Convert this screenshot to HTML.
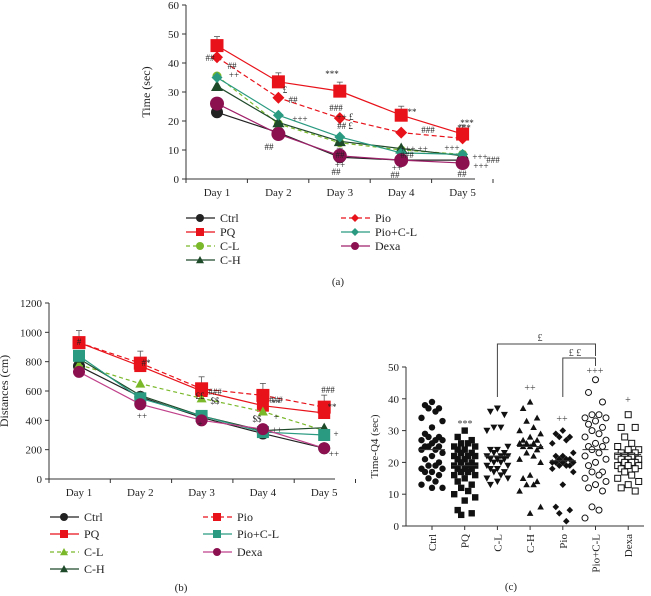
<!DOCTYPE html>
<html><head><meta charset="utf-8"><style>
body{margin:0;background:#fff}
svg{display:block;font-family:"Liberation Serif",serif}
</style></head><body>
<svg id="fig" width="651" height="596" viewBox="0 0 651 596" xmlns="http://www.w3.org/2000/svg"></svg>
<script>
const days = ["Day 1","Day 2","Day 3","Day 4","Day 5"];
const groups = ["Ctrl","PQ","C-L","C-H","Pio","Pio+C-L","Dexa"];
// panel a: time (sec)
const aCtrl = [23,16,7.5,6.5,6.5];
const aPQ = [46,33.5,30.3,22,15.5];
const aCL = [35.5,19,12.5,10,8.5];
const aCH = [32,19.5,13,10.5,8];
const aPio = [42,28,21,16,14];
const aPioCL = [35,22,14.5,9,8.5];
const aDexa = [26,15.5,8,6.5,5.5];
const aTicks = [0,10,20,30,40,50,60];
// panel b: distances (cm)
const bCtrl = [770,560,420,310,210];
const bPQ = [930,770,600,500,450];
const bCL = [780,650,550,460,330];
const bCH = [820,570,430,330,350];
const bPio = [930,790,615,570,490];
const bPioCL = [840,550,430,320,300];
const bDexa = [730,510,400,340,210];
const bTicks = [0,200,400,600,800,1000,1200];
// panel c: Time-Q4 scatter
const cCtrl = [39,38,37,37,36,34,33,31,29,28,28,27,27,27,26,25,25,25,24,24,23,22,21,20,19,19,18,18,17,17,16,15,14,13,12,12];
const cPQ = [30,28,27,26,26,25,25,24,24,23,23,22,22,22,21,21,20,20,19,19,19,18,18,18,17,17,16,16,15,14,13,12,11,10,9,8,5,4,3.5];
const cCL = [37,36,35,31,31,30,25,24,24,23,23,22,22,22,21,21,21,20,20,19,19,18,18,17,17,16,15,15,14,13];
const cCH = [39,37,34,33,31,30,29,28,27,27,26,26,26,25,25,25,24,23,22,21,20,16,15,14,13,13,11,6,4];
const cPio = [30,29,28,28,27,26,23,22,22,21,21,21,20,20,20,20,19,19,19,18,17,13,6,5,4,1.5];
const cPioCL = [46,42,39,35,35,34,34,33,32,31,30,29,28,27,26,25,25,24,23,22,21,20,19,17,17,16,15,14,13,12,11,6,5,2.5];
const cDexa = [35,31,31,28,26,25,24,24,23,23,22,22,22,21,21,21,20,20,20,19,19,19,18,18,17,16,15,14,13,12,11];
const cMeans = [24,19,22,25,20.5,24,22.5];
const cTicks = [0,10,20,30,40,50];

const svg = document.getElementById('fig');
const NS = "http://www.w3.org/2000/svg";
function mk(tag, attrs, parent){
  const e = document.createElementNS(NS, tag);
  for (const k in attrs) e.setAttribute(k, attrs[k]);
  (parent||svg).appendChild(e);
  return e;
}
function txt(x,y,s,size,anchor,parent,fill){
  const t = mk('text',{x:x,y:y,'font-size':size||11,'text-anchor':anchor||'middle',fill:fill||'#222'},parent);
  t.textContent = s;
  return t;
}
function marker(g,shape,x,y,r,color){
  let m;
  if(shape==='circle') m = mk('circle',{cx:x,cy:y,r:r,fill:color},g);
  else if(shape==='square') m = mk('rect',{x:x-r,y:y-r,width:2*r,height:2*r,fill:color},g);
  else if(shape==='tri') m = mk('polygon',{points:`${x},${y-r} ${x+r},${y+r*0.8} ${x-r},${y+r*0.8}`,fill:color},g);
  else if(shape==='diamond') m = mk('polygon',{points:`${x},${y-r} ${x+r},${y} ${x},${y+r} ${x-r},${y}`,fill:color},g);
  else if(shape==='ocircle') m = mk('circle',{cx:x,cy:y,r:r,fill:'#fff',stroke:color,'stroke-width':1},g);
  else if(shape==='osquare') m = mk('rect',{x:x-r,y:y-r,width:2*r,height:2*r,fill:'#fff',stroke:color,'stroke-width':1},g);
  return m;
}

function linePanel(cfg){
  const g = mk('g',{});
  
  
  const y = v => cfg.y0 - (v/cfg.ymax)*(cfg.y0-cfg.y1);
  const x = i => cfg.x0 + i*cfg.dx;
  const ax = mk('line',{x1:cfg.ax,y1:cfg.y1,x2:cfg.ax,y2:cfg.y0,stroke:'#333','stroke-width':1},g);
  
  
  const xa = mk('line',{x1:cfg.ax,y1:cfg.y0,x2:cfg.axEnd,y2:cfg.y0,stroke:'#333','stroke-width':1},g);
  
  
  cfg.ticks.forEach(t=>{
    mk('line',{x1:cfg.ax-4,y1:y(t),x2:cfg.ax,y2:y(t),stroke:'#333'},g);
    const l = txt(cfg.ax-7,y(t)+4,String(t),11,'end',g);
    
    
  });
  for(let i=0;i<=days.length;i++){
    const tx = cfg.ax + i*cfg.dx;
    mk('line',{x1:tx,y1:cfg.y0,x2:tx,y2:cfg.y0+4,stroke:'#333'},g);
  }
  days.forEach((d,i)=>{
    const l = txt(x(i),cfg.y0+17,d,11,'middle',g);
    
    
  });
  const yt = txt(0,0,cfg.ytitle,12,'middle',g);
  yt.setAttribute('transform',`translate(${cfg.ytx},${(cfg.y0+cfg.y1)/2}) rotate(-90)`);
  
  
  cfg.series.forEach(s=>{
    const sg = mk('g',{},g);
    
    
    const pts = s.data.map((v,i)=>`${x(i)},${y(v)}`).join(' ');
    mk('polyline',{points:pts,fill:'none',stroke:s.color,'stroke-width':1.2,'stroke-dasharray':s.dash||'none'},sg);
    s.data.forEach((v,i)=>{
      if(s.err){ mk('line',{x1:x(i),y1:y(v),x2:x(i),y2:y(v)-s.err,stroke:'#555','stroke-width':0.8},sg);
        mk('line',{x1:x(i)-3,y1:y(v)-s.err,x2:x(i)+3,y2:y(v)-s.err,stroke:'#555','stroke-width':0.8},sg);}
      const m = marker(sg,s.shape,x(i),y(v),s.r,s.fill||s.color);
      
      
    });
  });
  cfg.series.forEach((s,k)=>{
    const col = cfg.legendCols[k];
    const lg = mk('g',{},g);
    
    
    const lx = col.x, ly = col.y;
    mk('line',{x1:lx,y1:ly,x2:lx+29,y2:ly,stroke:s.color,'stroke-width':1.2,'stroke-dasharray':s.dash||'none'},lg);
    marker(lg,s.shape,lx+14,ly,4,s.fill||s.color);
    txt(lx+34,ly+4,s.label,12,'start',lg);
  });
  const pl = txt(cfg.lab[0],cfg.lab[1],cfg.labText,11,'middle',g);
  
  
  return {g,x,y};
}

linePanel({name:'chart-a',ax:186,axEnd:475,x0:217,dx:61.4,y0:179,y1:5,ymax:60,ticks:aTicks,ytitle:'Time (sec)',ytx:150,
  series:[
    {key:'ctrl',label:'Ctrl',data:aCtrl,color:'#222',shape:'circle',r:6,err:9},
    {key:'pq',label:'PQ',data:aPQ,color:'#e8121a',shape:'square',r:6.5,err:9},
    {key:'cl',label:'C-L',data:aCL,color:'#7ab82a',shape:'circle',r:4.5,dash:'4,3'},
    {key:'ch',label:'C-H',data:aCH,color:'#1f4a2a',shape:'tri',r:6},
    {key:'pio',label:'Pio',data:aPio,color:'#e8121a',shape:'diamond',r:6,dash:'5,3'},
    {key:'piocl',label:'Pio+C-L',data:aPioCL,color:'#2a9a80',shape:'diamond',r:5.5},
    {key:'dexa',label:'Dexa',data:aDexa,color:'#a0206a',fill:'#8b1050',shape:'circle',r:7}
  ],
  legendCols:[{x:186,y:218},{x:186,y:232},{x:186,y:246},{x:186,y:260},{x:341,y:218},{x:341,y:232},{x:341,y:246}],
  lab:[338,285],labText:'(a)'});
[['***',332,77],['***',464,131],['**',412,115],['***',467,126],['##',210,61],['##',232,69],['++',234,78],['£',285,93],['##',293,103],['+++',300,122],['###',336,111],['++ £',345,120],['## £',345,129],['##',269,150],['##',340,158],['++',340,168],['##',336,175],['###',428,133],['+++ ++',414,152],['###',407,158],['++',397,171],['##',395,178],['+++',452,151],['+++',480,160],['###',493,163],['+++',481,169],['##',462,177]].forEach(a=>{
  const t=txt(a[1],a[2],a[0],9,'middle');
  
  
});

linePanel({name:'chart-b',ax:49,axEnd:335,x0:79,dx:61.3,y0:479,y1:303,ymax:1200,ticks:bTicks,ytitle:'Distances (cm)',ytx:8,
  series:[
    {key:'ctrl',label:'Ctrl',data:bCtrl,color:'#222',shape:'circle',r:6},
    {key:'pq',label:'PQ',data:bPQ,color:'#e8121a',shape:'square',r:6,err:0},
    {key:'cl',label:'C-L',data:bCL,color:'#7ab82a',shape:'tri',r:5,dash:'4,3'},
    {key:'ch',label:'C-H',data:bCH,color:'#1f4a2a',shape:'tri',r:5},
    {key:'pio',label:'Pio',data:bPio,color:'#e8121a',shape:'square',r:6.5,dash:'5,3',err:12},
    {key:'piocl',label:'Pio+C-L',data:bPioCL,color:'#2a9a80',shape:'square',r:6},
    {key:'dexa',label:'Dexa',data:bDexa,color:'#c0408a',fill:'#8b1050',shape:'circle',r:6}
  ],
  legendCols:[{x:50,y:517},{x:50,y:534},{x:50,y:552},{x:50,y:569},{x:203,y:517},{x:203,y:534},{x:203,y:552}],
  lab:[181,591],labText:'(b)'});
[['#',79,345],['#*',146,366],['###',215,395],['££',200,399],['$$',215,404],['###',276,403],['**',276,406],['$$',257,422],['+',276,420],['++',142,419],['+',200,427],['++',277,433],['###',328,393],['**',332,410],['+',336,437],['++',334,457]].forEach(a=>{
  const t=txt(a[1],a[2],a[0],9,'middle');
  
  
});

(function(){
  const g = mk('g',{});
  
  
  const y0=526,y1=367,ymax=50,ax=406,x0=432,dx=32.7;
  const y = v => y0-(v/ymax)*(y0-y1);
  const x = i => x0+i*dx;
  const ya=mk('line',{x1:ax,y1:y1,x2:ax,y2:y0,stroke:'#333'},g);
  
  
  const xa=mk('line',{x1:ax,y1:y0,x2:644,y2:y0,stroke:'#333'},g);
  
  
  cTicks.forEach(t=>{
    mk('line',{x1:ax-4,y1:y(t),x2:ax,y2:y(t),stroke:'#333'},g);
    const l=txt(ax-7,y(t)+4,String(t),11,'end',g);
    
    
  });
  const yt=txt(0,0,'Time-Q4 (sec)',11,'middle',g);
  yt.setAttribute('transform',`translate(378,${(y0+y1)/2}) rotate(-90)`);
  
  
  const sets=[cCtrl,cPQ,cCL,cCH,cPio,cPioCL,cDexa];
  const shapes=['circle','square','tri','tri','diamond','ocircle','osquare'];
  const sizes=[3.2,3.2,3.5,3.3,3.3,3,3];
  const jit=[0,-7,7,-3.5,3.5,-10.5,10.5];
  sets.forEach((vals,i)=>{
    const sg=mk('g',{},g);
    
    
    mk('line',{x1:x(i),y1:y0,x2:x(i),y2:y0+4,stroke:'#333'},sg);
    vals.forEach((v,k)=>{
      const off=jit[k%jit.length];
      const m=marker(sg,shapes[i],x(i)+off,y(v),sizes[i],'#111');
      if(i===2) m.setAttribute('transform',`rotate(180 ${x(i)+off} ${y(v)})`);
      
      
    });
    mk('line',{x1:x(i)-13,y1:y(cMeans[i]),x2:x(i)+13,y2:y(cMeans[i]),stroke:'#333','stroke-width':1},sg);
    const l=txt(0,0,groups[i],11,'end',sg);
    l.setAttribute('transform',`translate(${x(i)+4},${y0+8}) rotate(-90)`);
    
    
  });
  const br=mk('path',{d:`M${x(2)},397 V344 H${x(5)} V356 M${x(4)},397 V358 H${x(5)} V366`,fill:'none',stroke:'#444','stroke-width':1},g);
  
  
  [['£',540,341],['£ £',575,356],['+++',595,374],['++',530,391],['***',465,427],['++',562,422],['+',628,403]].forEach(a=>{
    const t=txt(a[1],a[2],a[0],10,'middle',g,'#444');
    
    
  });
  const pl=txt(511,590,'(c)',11,'middle',g);
  
  
})();
</script>
</body></html>
